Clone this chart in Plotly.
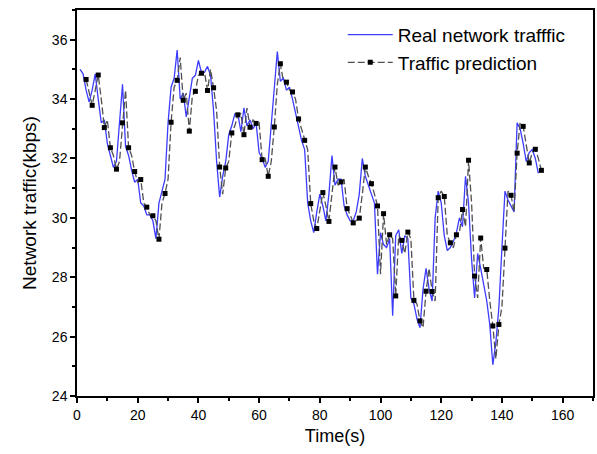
import plotly.graph_objects as go

# Time axis (seconds)
real_t = list(range(1, 153))
real_v = [
    35.0, 34.85, 34.3, 33.9, 34.3, 34.85, 34.0, 33.2, 33.3, 32.5,
    32.1, 31.7, 31.9, 33.3, 34.5, 32.4, 32.1, 31.6, 31.2, 31.3,
    30.5, 30.4, 30.1, 30.1, 29.9, 29.3, 30.5, 30.9, 31.3, 33.2,
    34.4, 34.7, 35.65, 34.0, 34.2, 33.4, 34.1, 34.7, 34.8, 35.3,
    34.9, 34.9, 35.1, 34.8, 33.6, 31.9, 30.7, 31.4, 31.9, 32.8,
    33.1, 33.5, 33.5, 32.9, 33.7, 33.1, 33.3, 33.0, 33.2, 32.2,
    32.0, 31.7, 31.9, 33.1, 34.5, 35.6, 34.6, 34.7, 34.3, 34.4,
    34.0, 33.5, 33.0, 32.6, 32.3, 30.5, 29.9, 29.5, 30.2, 30.8,
    30.4, 29.9, 30.8, 32.1, 31.1, 31.3, 31.3, 30.4, 30.1, 29.9,
    29.9, 30.2, 30.8, 32.0, 31.4, 31.1, 30.8, 30.5, 28.1, 29.5,
    29.1, 29.0, 29.3, 26.7, 29.4, 29.6, 28.8, 29.4, 29.3, 27.3,
    27.1, 26.6, 26.3, 27.6, 28.3, 27.6, 27.2, 30.0, 30.9, 30.5,
    29.4, 28.9, 29.0, 29.2, 29.5, 30.0, 29.7, 31.4, 30.5, 28.6,
    27.3, 28.8, 28.3, 27.8, 27.2, 26.4, 25.05, 25.8, 27.0, 29.0,
    30.9, 30.6, 30.4, 30.2, 33.2, 33.0, 32.5, 31.9, 32.2, 32.3,
    32.0, 31.5,
]

pred_t = list(range(3, 154))
pred_v = [
    34.66, 34.2, 33.79, 34.3, 34.81, 34.0, 33.04, 33.3, 32.36, 32.1,
    31.64, 31.9, 33.2, 34.3, 32.36, 32.1, 31.56, 31.2, 31.29, 30.5,
    30.36, 30.1, 30.07, 29.9, 29.28, 30.5, 30.82, 31.3, 33.22, 34.4,
    34.63, 35.4, 33.96, 34.2, 32.92, 34.1, 34.26, 34.8, 34.87, 34.9,
    34.29, 35.0, 34.38, 33.6, 31.71, 30.8, 31.68, 31.9, 32.86, 33.1,
    33.47, 33.5, 32.8, 33.7, 33.05, 33.3, 33.18, 33.2, 31.96, 32.0,
    31.4, 31.9, 33.06, 34.5, 35.19, 34.6, 34.57, 34.3, 34.24, 34.0,
    33.33, 33.0, 32.61, 32.3, 30.48, 29.9, 29.64, 30.2, 30.85, 30.4,
    29.88, 30.8, 31.71, 31.1, 31.21, 31.3, 30.31, 30.1, 29.83, 29.9,
    29.99, 30.8, 31.71, 31.4, 31.15, 30.8, 30.4, 28.1, 30.14, 29.1,
    29.43, 29.3, 27.37, 29.4, 29.24, 28.8, 29.52, 29.3, 27.22, 27.1,
    26.53, 26.3, 27.53, 28.3, 27.52, 27.2, 30.68, 30.9, 30.72, 29.4,
    29.16, 29.0, 29.43, 29.5, 30.28, 29.7, 31.94, 30.5, 28.04, 27.3,
    29.32, 28.3, 28.26, 27.2, 26.36, 25.25, 26.41, 27.0, 28.98, 30.9,
    30.76, 30.2, 32.18, 33.2, 33.08, 32.5, 31.85, 32.2, 32.31, 32.0,
    31.6,
]

# markers on every second prediction point (odd seconds)
mark_t = pred_t[::2]
mark_v = pred_v[::2]

x_ticks = [0, 20, 40, 60, 80, 100, 120, 140, 160]
y_ticks = [24, 26, 28, 30, 32, 34, 36]

BLUE = "#3c3cff"
GRAY = "#505050"
FONT = "Liberation Sans, Arial, sans-serif"

fig = go.Figure()
fig.add_trace(go.Scatter(
    x=real_t, y=real_v, mode="lines", name="Real network trafffic",
    line=dict(color=BLUE, width=1.3),
))
fig.add_trace(go.Scatter(
    x=pred_t, y=pred_v, mode="lines", name="Traffic prediction",
    line=dict(color=GRAY, width=1.3, dash="7px,3px"),
    showlegend=False, legendgroup="pred",
))
fig.add_trace(go.Scatter(
    x=mark_t, y=mark_v, mode="markers", name="Traffic prediction",
    marker=dict(symbol="square", size=5, color="black"),
    showlegend=False, legendgroup="pred",
))
fig.add_trace(go.Scatter(
    x=[None], y=[None], mode="lines+markers", name="Traffic prediction",
    line=dict(color=GRAY, width=1.3, dash="7px,3px"),
    marker=dict(symbol="square", size=5, color="black"),
    legendgroup="pred",
))

axis_common = dict(
    showline=True, linecolor="black", linewidth=1.5, mirror=True,
    ticks="outside", ticklen=5, tickwidth=1.5, tickcolor="black",
    showgrid=False, zeroline=False,
    tickfont=dict(family=FONT, size=14, color="black"),
)

fig.update_xaxes(
    range=[0, 170], tickvals=x_ticks,
    title=dict(text="Time(s)", font=dict(family=FONT, size=18, color="black"), standoff=8),
    minor=dict(dtick=10, ticks="outside", ticklen=3, tickwidth=1.5, tickcolor="black"),
    **axis_common,
)
fig.update_yaxes(
    range=[24, 37], tickvals=y_ticks,
    title=dict(text="Network traffic(kbps)", font=dict(family=FONT, size=19, color="black"), standoff=10),
    minor=dict(dtick=1, ticks="outside", ticklen=3, tickwidth=1.5, tickcolor="black"),
    **axis_common,
)

fig.update_layout(
    width=597, height=454,
    margin=dict(l=77, r=2, t=10, b=58),
    plot_bgcolor="white", paper_bgcolor="white",
    font=dict(family=FONT, color="black"),
    legend=dict(
        x=0.515, y=0.985, xanchor="left", yanchor="top",
        bgcolor="rgba(0,0,0,0)", borderwidth=0,
        font=dict(family=FONT, size=19, color="black"),
        itemwidth=45, tracegroupgap=0,
    ),
)

fig.write_html("out.html")
